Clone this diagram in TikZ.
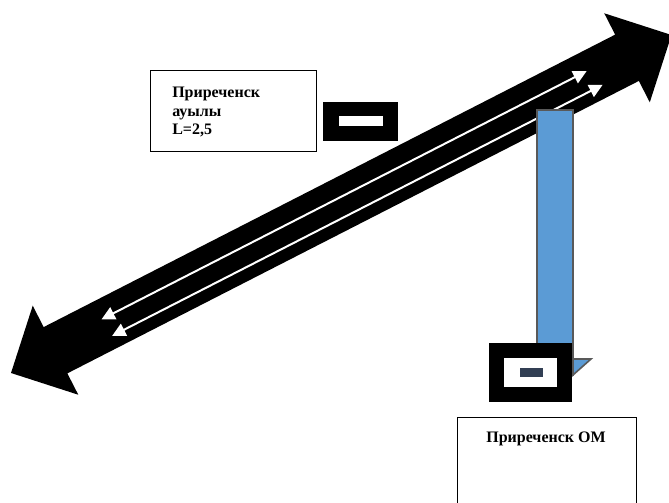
\documentclass[tikz,border=0pt]{standalone}
\usepackage{fontspec}
\setmainfont{Liberation Serif}
\usetikzlibrary{arrows.meta,positioning}

\definecolor{roadblue}{RGB}{91,155,213}
\definecolor{roadedge}{RGB}{89,89,89}
\definecolor{signslate}{RGB}{50,63,84}

\tikzset{
  labeltext/.style={font=\fontsize{12}{13.8}\selectfont\bfseries, inner sep=0pt},
  whitearrow/.style={draw=white, line width=1.5pt,
    {Triangle[length=10pt,width=10pt]}-{Triangle[length=10pt,width=10pt]}},
}

\begin{document}
\begin{tikzpicture}[x=0.75pt, y=-0.75pt]
  \useasboundingbox (0,0) rectangle (669,503);

  % main road, drawn along its own axis
  \begin{scope}[shift={(11,373)}, rotate=27.1]
    \fill[black] (0,0) -- (50,-50) -- (50,-26) -- (692,-26) -- (692,-50)
      -- (742,0) -- (692,50) -- (692,26) -- (50,26) -- (50,50) -- cycle;
    \coordinate (laneAw) at (105,-6.5);
    \coordinate (laneAe) at (650,-6.5);
    \coordinate (laneBw) at (107,13);
    \coordinate (laneBe) at (658,13);
    \draw[whitearrow] (laneAw) -- (laneAe);
    \draw[whitearrow] (laneBw) -- (laneBe);
  \end{scope}

  % side road down to the station
  \filldraw[draw=roadedge, fill=roadblue, line width=1.5pt] (537,110) rectangle (573,375);
  \filldraw[draw=roadedge, fill=roadblue, line width=1.2pt] (573,359) -- (591,359) -- (573,375) -- cycle;

  % signs
  \fill[black] (323,102) rectangle (398,141);
  \fill[white] (339,116) rectangle (383,126);
  \fill[black] (489,343) rectangle (572,402);
  \fill[white] (504,358) rectangle (557,387);
  \fill[signslate] (520,368) rectangle (543,377);

  % village box
  \node[draw, line width=0.75pt, minimum width=124.5pt, minimum height=60.75pt, inner sep=0pt]
    (villagebox) at (233,111.5) {};
  \node[labeltext, anchor=north west, align=left] (villagename) at (172,87)
    {Приреченск\\ауылы\\L=2,5};

  % station box, open at the bottom
  \draw[line width=0.75pt] (457,503) |- (636,417) -- (636,503);
  \node[labeltext, anchor=base] (stationname) at (546,442) {Приреченск ОМ};
\end{tikzpicture}
\end{document}
